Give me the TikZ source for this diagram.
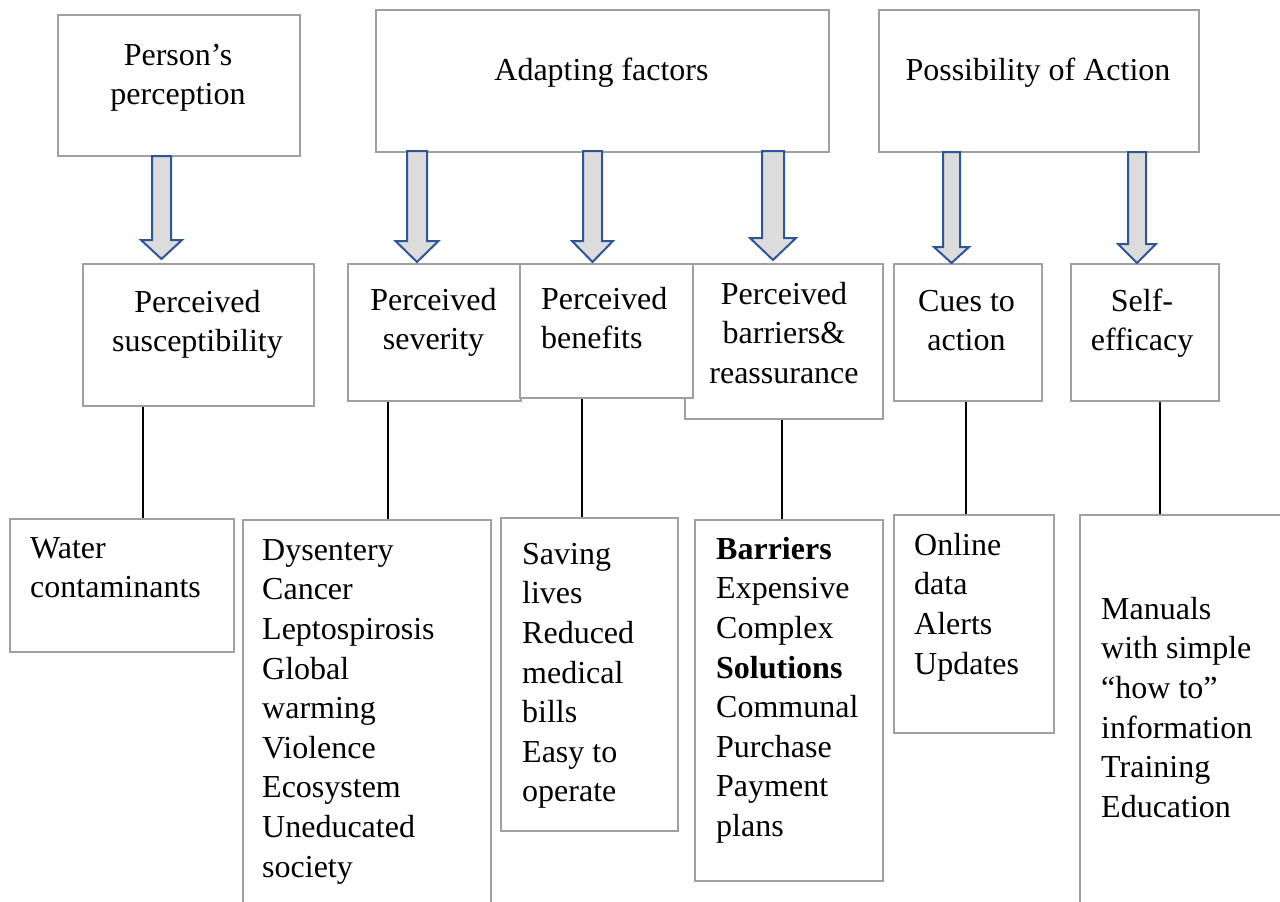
\documentclass[tikz,border=0pt]{standalone}
\usepackage{fontspec}
\setmainfont{Liberation Serif}
\definecolor{boxgray}{HTML}{A0A0A0}
\definecolor{arrowblue}{HTML}{2F5597}
\definecolor{arrowfill}{HTML}{DCDCDC}
\newcommand\blockarr[6]{%
  \draw[barrow] (#1-#5,#2) -- (#1+#5,#2) -- (#1+#5,#3) -- (#1+#6,#3) -- (#1,#4) -- (#1-#6,#3) -- (#1-#5,#3) -- cycle;}
\newcommand\fl{\rule{0pt}{24pt}}
\begin{document}
\begin{tikzpicture}[x=1pt,y=-1pt,
  box/.style={draw=boxgray,line width=2.4pt,fill=white,inner sep=0pt,anchor=north west},
  txt/.style={inner sep=0pt,font=\fontsize{32}{39.6}\selectfont},
  ctxt/.style={txt,align=center,anchor=north},
  ltxt/.style={txt,align=left,anchor=north west},
  link/.style={draw=black,line width=1.4pt},
  barrow/.style={draw=arrowblue,fill=arrowfill,line width=2pt,line join=miter}]
\useasboundingbox (0,0) rectangle (1280,902);
\clip (0,0) rectangle (1280,902);
\fill[white] (0,0) rectangle (1280,902);

% top boxes
\node[box,minimum width=242pt,minimum height=141pt] (pper) at (57,14) {};
\node[box,minimum width=453pt,minimum height=142pt] (padapt) at (375,9) {};
\node[box,minimum width=320pt,minimum height=142pt] (pposs) at (878,9) {};

% middle boxes
\node[box,minimum width=231pt,minimum height=142pt] (msus) at (82,263) {};
\node[box,minimum width=173pt,minimum height=137pt] (msev) at (347,263) {};
\node[box,minimum width=198pt,minimum height=155pt] (mbar) at (684,263) {};
\node[box,minimum width=173pt,minimum height=134pt] (mben) at (519,263) {};
\node[box,minimum width=148pt,minimum height=137pt] (mcue) at (893,263) {};
\node[box,minimum width=148pt,minimum height=137pt] (mself) at (1070,263) {};

% bottom boxes
\node[box,minimum width=224pt,minimum height=133pt] (bwat) at (9,518) {};
\node[box,minimum width=248pt,minimum height=400pt] (bsev) at (242,519) {};
\node[box,minimum width=177pt,minimum height=313pt] (bben) at (500,517) {};
\node[box,minimum width=188pt,minimum height=361pt] (bbar) at (694,519) {};
\node[box,minimum width=160pt,minimum height=218pt] (bcue) at (893,514) {};
\node[box,minimum width=260pt,minimum height=400pt] (bself) at (1079,514) {};

% block arrows
\blockarr{161.5}{156}{240}{259}{9.5}{20.5}
\blockarr{417}{151}{241}{262}{10}{21.5}
\blockarr{592.5}{151}{241}{262}{9.5}{20.5}
\blockarr{773}{151}{238}{260}{11}{23}
\blockarr{951.5}{152}{247}{263}{8.5}{17.5}
\blockarr{1137}{152}{244}{263}{9}{19}

% connectors
\coordinate (c1) at (143,0);
\coordinate (c2) at (388,0);
\coordinate (c3) at (582,0);
\coordinate (c4) at (782,0);
\coordinate (c5) at (966,0);
\coordinate (c6) at (1160,0);
\draw[link] (msus.south -| c1) -- (bwat.north -| c1);
\draw[link] (msev.south -| c2) -- (bsev.north -| c2);
\draw[link] (mben.south -| c3) -- (bben.north -| c3);
\draw[link] (mbar.south -| c4) -- (bbar.north -| c4);
\draw[link] (mcue.south -| c5) -- (bcue.north -| c5);
\draw[link] (mself.south -| c6) -- (bself.north -| c6);

% texts
\node[ctxt] (tper) at (178,41) {\fl Person’s\\perception};
\node[ctxt] (tadapt) at (601.5,56) {\fl Adapting factors};
\node[ctxt] (tposs) at (1038,56) {\fl Possibility of Action};

\node[ctxt] (tsus) at (197.5,288) {\fl Perceived\\susceptibility};
\node[ctxt] (tsev) at (433.5,286) {\fl Perceived\\severity};
\node[ltxt] (tben) at (541,285) {\fl Perceived\\benefits};
\node[ctxt] (tbar) at (784,280) {\fl Perceived\\barriers\&\\reassurance};
\node[ctxt] (tcue) at (966.5,287) {\fl Cues to\\action};
\node[ctxt] (tself) at (1142,287) {\fl Self-\\efficacy};

\node[ltxt] (lwat) at (30,534) {\fl Water\\contaminants};
\node[ltxt] (lsev) at (262,536) {\fl Dysentery\\Cancer\\Leptospirosis\\Global\\warming\\Violence\\Ecosystem\\Uneducated\\society};
\node[ltxt] (lben) at (522,540) {\fl Saving\\lives\\Reduced\\medical\\bills\\Easy to\\operate};
\node[ltxt] (lbar) at (716,535) {\fl\textbf{Barriers}\\Expensive\\Complex\\\textbf{Solutions}\\Communal\\Purchase\\Payment\\plans};
\node[ltxt] (lcue) at (914,531) {\fl Online\\data\\Alerts\\Updates};
\node[ltxt] (lself) at (1101,595) {\fl Manuals\\with simple\\“how to”\\information\\Training\\Education};
\end{tikzpicture}
\end{document}
